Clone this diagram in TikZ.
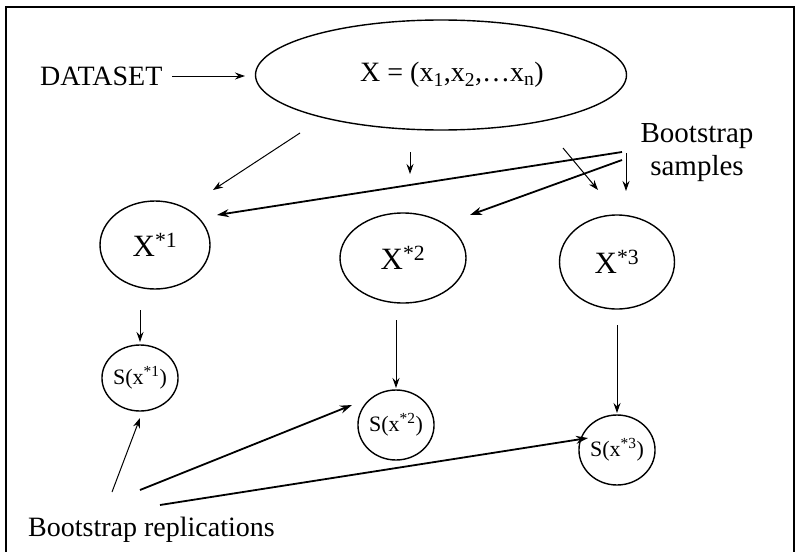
\documentclass[tikz,border=0pt]{standalone}
\usepackage{fontspec}
\setmainfont{Liberation Serif}
\usetikzlibrary{shapes.geometric,arrows.meta}
\begin{document}
\begin{tikzpicture}[x=1pt,y=-1pt,
  lbl/.style={font=\fontsize{28}{32}\selectfont, inner sep=0pt},
  xlbl/.style={font=\fontsize{31}{35}\selectfont, inner sep=0pt},
  slbl/.style={font=\fontsize{22}{26}\selectfont},
  bubble/.style={draw, ellipse, line width=1.4pt, inner sep=0pt},
  thinarrow/.style={-{Stealth[length=10pt,width=7pt]}, line width=1pt},
  thickarrow/.style={-{Stealth[length=12pt,width=8pt]}, line width=1.8pt}]
\useasboundingbox (0,0) rectangle (797,551);
\draw[line width=1.5pt] (6,560) -- (6,7) -- (794,7) -- (794,560);

% main nodes
\node[lbl, anchor=west] (ds) at (40,76) {DATASET};
\node[bubble, lbl, minimum width=371pt, minimum height=110pt] (X) at (441,75) {\hspace*{22pt}X = (x\textsubscript{1},x\textsubscript{2},\ldots x\textsubscript{n})};
\node[lbl, align=center, font=\fontsize{29}{33}\selectfont] (bs) at (697,153) {Bootstrap\\samples};

\node[bubble, xlbl, minimum width=110pt, minimum height=88pt] (X1) at (155,245) {X\textsuperscript{*1}};
\node[bubble, xlbl, minimum width=126pt, minimum height=90pt] (X2) at (403,258) {X\textsuperscript{*2}};
\node[bubble, xlbl, minimum width=115pt, minimum height=94pt] (X3) at (617,262) {X\textsuperscript{*3}};

\node[bubble, slbl, minimum width=70pt, minimum height=66pt] (S1) at (140,378) {S(x\textsuperscript{*1})};
\node[bubble, slbl, minimum width=75pt, minimum height=70pt] (S2) at (396,425) {S(x\textsuperscript{*2})};
\node[bubble, slbl, minimum width=76pt, minimum height=70pt] (S3) at (617,450) {S(x\textsuperscript{*3})};

\node[lbl, anchor=west] (br) at (28,530) {Bootstrap replications};

% arrow end points
\coordinate (dsA) at (172,76);  \coordinate (dsB) at (245,76);
\coordinate (a1s) at (300,133); \coordinate (a1e) at (213,190);
\coordinate (a2s) at (410,152); \coordinate (a2e) at (410,174);
\coordinate (a3s) at (563,148); \coordinate (a3e) at (598,190);
\coordinate (a4s) at (626,153); \coordinate (a4e) at (626,191);
\coordinate (b1s) at (622,152); \coordinate (b1e) at (217,215);
\coordinate (b2s) at (622,160); \coordinate (b2e) at (470,215);
\coordinate (v1s) at (140,310); \coordinate (v1e) at (140,342);
\coordinate (v2s) at (396,320); \coordinate (v2e) at (396,388);
\coordinate (v3s) at (617,325); \coordinate (v3e) at (617,413);
\coordinate (r1s) at (112,492); \coordinate (r1e) at (140,418);
\coordinate (r2s) at (140,490); \coordinate (r2e) at (352,405);
\coordinate (r3s) at (160,505); \coordinate (r3e) at (588,438);

\draw[thinarrow] (dsA) -- (dsB);
\draw[thinarrow] (a1s) -- (a1e);
\draw[thinarrow] (a2s) -- (a2e);
\draw[thinarrow] (a3s) -- (a3e);
\draw[thinarrow] (a4s) -- (a4e);
\draw[thickarrow] (b1s) -- (b1e);
\draw[thickarrow] (b2s) -- (b2e);
\draw[thinarrow] (v1s) -- (v1e);
\draw[thinarrow] (v2s) -- (v2e);
\draw[thinarrow] (v3s) -- (v3e);
\draw[thinarrow] (r1s) -- (r1e);
\draw[thickarrow] (r2s) -- (r2e);
\draw[thickarrow] (r3s) -- (r3e);
\end{tikzpicture}
\end{document}
